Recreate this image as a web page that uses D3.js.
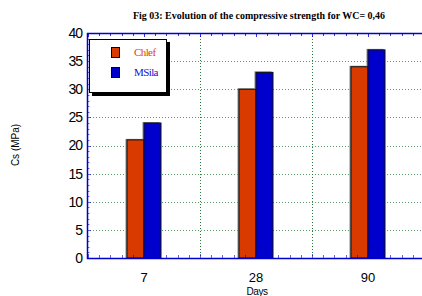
<!DOCTYPE html>
<html>
<head>
<meta charset="utf-8">
<script src="https://cdn.jsdelivr.net/npm/d3@7"></script>
<style>
  body { margin: 0; background: #fff; }
  svg { display: block; }
</style>
</head>
<body>
<script>
// data
var days = ['7', '28', '90'];
var series = ['Chlef', 'MSila'];
var chlef = [21, 30, 34];
var msila = [24, 33, 37];
var yTicks = [0, 5, 10, 15, 20, 25, 30, 35, 40];
var colors = ['#d83a00', '#0000cc'];

var width = 422, height = 296;
var pLeft = 87, pTop = 33, pRight = 424, pBottom = 258;

var svg = d3.select('body').append('svg')
  .attr('width', width)
  .attr('height', height);

var x = d3.scaleBand().domain(days).range([88, pRight]).padding(0);
var x1 = d3.scaleBand().domain(series)
  .range([x.bandwidth() / 2 - 17, x.bandwidth() / 2 + 17]).padding(0);
var y = d3.scaleLinear().domain([0, 40]).range([pBottom, pTop]);

// grid
var grid = svg.append('g');
grid.selectAll('line.h').data(yTicks.slice(1, -1)).enter().append('line')
  .attr('x1', pLeft).attr('x2', pRight)
  .attr('y1', function(d) { return Math.round(y(d)) + 0.5; })
  .attr('y2', function(d) { return Math.round(y(d)) + 0.5; })
  .attr('stroke', '#5a9a6a').attr('stroke-width', 1)
  .attr('stroke-dasharray', '1,2');
grid.selectAll('line.v').data(days.slice(1)).enter().append('line')
  .attr('x1', function(d) { return x(d) + 0.5; })
  .attr('x2', function(d) { return x(d) + 0.5; })
  .attr('y1', pTop).attr('y2', pBottom)
  .attr('stroke', '#2a7a3a').attr('stroke-width', 1)
  .attr('stroke-dasharray', '1,2');

// bars
var rows = days.map(function(d, i) { return { day: d, vals: [chlef[i], msila[i]] }; });
function barData(d) { return d.vals.map(function(v, k) { return { s: series[k], v: v, k: k }; }); }
var groups = svg.selectAll('g.day').data(rows).enter().append('g')
  .attr('transform', function(d) { return 'translate(' + x(d.day) + ',0)'; });
groups.selectAll('rect.sh').data(barData)
  .enter().append('rect')
  .attr('x', function(d) { return x1(d.s) - 1.5; })
  .attr('y', function(d) { return y(d.v) - 1; })
  .attr('width', x1.bandwidth())
  .attr('height', function(d) { return pBottom - y(d.v) + 1; })
  .attr('fill', '#888');
groups.selectAll('rect.bar').data(barData)
  .enter().append('rect')
  .attr('x', function(d) { return x1(d.s); })
  .attr('y', function(d) { return y(d.v); })
  .attr('width', x1.bandwidth())
  .attr('height', function(d) { return pBottom - y(d.v); })
  .attr('fill', function(d) { return colors[d.k]; })
  .attr('stroke', '#111').attr('stroke-width', 1);

// frame and ticks (blue)
var blue = '#0000cc';
var minorY = d3.range(0, 41, 1);
var minorX = d3.range(0, 31).map(function(i) { return 88 + i * x.bandwidth() / 10; });

svg.append('g').selectAll('line').data(minorY).enter().append('line')
  .attr('x1', pLeft).attr('x2', function(d) { return pLeft + (d % 5 === 0 ? 4 : 2.5); })
  .attr('y1', function(d) { return Math.round(y(d)) + 0.5; })
  .attr('y2', function(d) { return Math.round(y(d)) + 0.5; })
  .attr('stroke', blue).attr('stroke-opacity', 0.6);

var tx = svg.append('g');
tx.selectAll('line.b').data(minorX).enter().append('line')
  .attr('x1', function(d) { return Math.round(d) + 0.5; })
  .attr('x2', function(d) { return Math.round(d) + 0.5; })
  .attr('y1', pBottom).attr('y2', function(d, i) { return pBottom - (i % 5 === 0 ? 4 : 3); })
  .attr('stroke', blue).attr('stroke-opacity', 0.6);
tx.selectAll('line.t').data(minorX).enter().append('line')
  .attr('x1', function(d) { return Math.round(d) + 0.5; })
  .attr('x2', function(d) { return Math.round(d) + 0.5; })
  .attr('y1', pTop).attr('y2', function(d, i) { return pTop + (i % 5 === 0 ? 4 : 3); })
  .attr('stroke', blue).attr('stroke-opacity', 0.8);

svg.append('path')
  .attr('d', 'M' + pRight + ',' + (pTop + 0.5) + 'H' + (pLeft + 0.5) + 'V' + (pBottom + 0.5) + 'H' + pRight)
  .attr('fill', 'none').attr('stroke', blue).attr('stroke-width', 1.5);

// axes labels
var yAxis = d3.axisLeft(y).tickValues(yTicks).tickSize(0).tickPadding(5);
svg.append('g').attr('transform', 'translate(' + pLeft + ',0)').call(yAxis)
  .call(function(g) { g.select('.domain').remove(); })
  .selectAll('text')
  .attr('font-family', 'Liberation Sans, Arial, sans-serif')
  .attr('font-size', 14).attr('fill', '#000')
  .attr('letter-spacing', '-1');

var xAxis = d3.axisBottom(x).tickSize(0).tickPadding(15);
svg.append('g').attr('transform', 'translate(0,' + pBottom + ')').call(xAxis)
  .call(function(g) { g.select('.domain').remove(); })
  .selectAll('text')
  .attr('font-family', 'Liberation Sans, Arial, sans-serif')
  .attr('font-size', 13).attr('fill', '#000');

svg.append('text')
  .attr('x', 257).attr('y', 295)
  .attr('text-anchor', 'middle')
  .attr('font-family', 'Liberation Sans, Arial, sans-serif')
  .attr('font-size', 10).attr('letter-spacing', '-0.5')
  .text('Days');

svg.append('text')
  .attr('transform', 'translate(19,145) rotate(-90)')
  .attr('text-anchor', 'middle')
  .attr('font-family', 'Liberation Sans, Arial, sans-serif')
  .attr('font-size', 10)
  .text('Cs (MPa)');

// title
svg.append('text')
  .attr('x', 133).attr('y', 19)
  .attr('textLength', 252).attr('lengthAdjust', 'spacingAndGlyphs')
  .attr('font-family', 'Liberation Serif, Times New Roman, serif')
  .attr('font-weight', 'bold').attr('font-size', 10)
  .text('Fig 03: Evolution of the compressive strength for WC= 0,46');

// legend
var lg = svg.append('g');
lg.append('rect').attr('x', 92).attr('y', 42).attr('width', 78).attr('height', 54).attr('fill', '#000');
lg.append('rect').attr('x', 89.5).attr('y', 39.5).attr('width', 77).attr('height', 53)
  .attr('fill', '#fff').attr('stroke', '#000').attr('stroke-width', 1);
series.forEach(function(s, k) {
  lg.append('rect')
    .attr('x', 111.5).attr('y', 47.5 + k * 20)
    .attr('width', 8).attr('height', 10)
    .attr('fill', colors[k]).attr('stroke', '#000');
  lg.append('text')
    .attr('x', 134).attr('y', 56 + k * 20)
    .attr('font-family', 'Liberation Serif, Times New Roman, serif')
    .attr('font-size', 11).attr('letter-spacing', '-0.6')
    .attr('fill', k === 0 ? '#e04010' : '#1010cc')
    .text(s);
});
</script>
</body>
</html>
